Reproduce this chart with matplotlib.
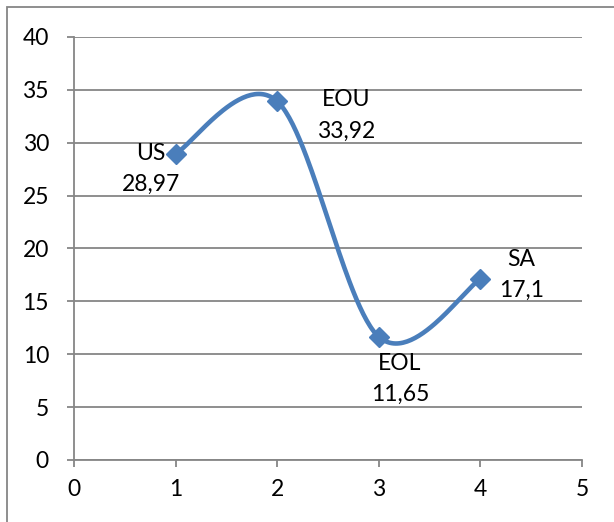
import numpy as np
import matplotlib.pyplot as plt
from matplotlib.patches import Rectangle

# Dati
x = [1, 2, 3, 4]
y = [28.97, 33.92, 11.65, 17.1]
nomi = ['US', 'EOU', 'EOL', 'SA']
valori = ['28,97', '33,92', '11,65', '17,1']
# spostamento delle etichette (pixel)
offset = [(-25, -15), (69, -14), (21, -42), (41, 4)]

blu = '#4A7EBB'
grigio = '#868686'


def smooth(px, py, n=60):
    # curva liscia tipo Excel: Bezier con punti di controllo Catmull-Rom
    p = np.column_stack([px, py]).astype(float)
    p = np.vstack([p[0], p, p[-1]])
    out = []
    for i in range(1, len(p) - 2):
        p0, p1 = p[i], p[i + 1]
        c1 = p0 + (p[i + 1] - p[i - 1]) / 6
        c2 = p1 - (p[i + 2] - p[i]) / 6
        t = np.linspace(0, 1, n)[:, None]
        b = (1 - t)**3 * p0 + 3 * (1 - t)**2 * t * c1 + 3 * (1 - t) * t**2 * c2 + t**3 * p1
        out.append(b)
    b = np.vstack(out)
    return b[:, 0], b[:, 1]


plt.rcParams['font.family'] = ['Lato', 'DejaVu Sans']

fig = plt.figure(figsize=(6.14, 5.22), dpi=100)
ax = fig.add_axes([74 / 614, 62 / 522, 508 / 614, 423 / 522])

xs, ys = smooth(x, y)
ax.plot(xs, ys, color=blu, lw=3.3, solid_capstyle='round', zorder=3)
ax.plot(x, y, 'D', color=blu, ms=10, zorder=4)

for xi, yi, n, v, (dx, dy) in zip(x, y, nomi, valori, offset):
    ax.annotate(n + '\n' + v, (xi, yi), xytext=(dx, dy), textcoords='offset pixels',
                ha='center', va='center', fontsize=16.5, linespacing=1.6, zorder=5)

ax.set_xlim(0, 5)
ax.set_ylim(0, 40)
ax.set_xticks(range(0, 6))
ax.set_yticks(range(0, 41, 5))
ax.yaxis.grid(True, color=grigio, lw=1.3)
ax.set_axisbelow(True)
for s in ['top', 'right']:
    ax.spines[s].set_visible(False)
for s in ['left', 'bottom']:
    ax.spines[s].set_color(grigio)
    ax.spines[s].set_linewidth(1.3)
ax.tick_params(axis='both', direction='out', length=5, width=1.3, color=grigio, labelsize=16.5)
ax.tick_params(axis='y', pad=13)
ax.tick_params(axis='x', pad=9)

# cornice
fig.patches.append(Rectangle((7 / 614, -0.1), 1.2, (515 / 522) + 0.1, transform=fig.transFigure,
                             fill=False, ec=grigio, lw=1.3))

plt.savefig('out.png', dpi=100)
